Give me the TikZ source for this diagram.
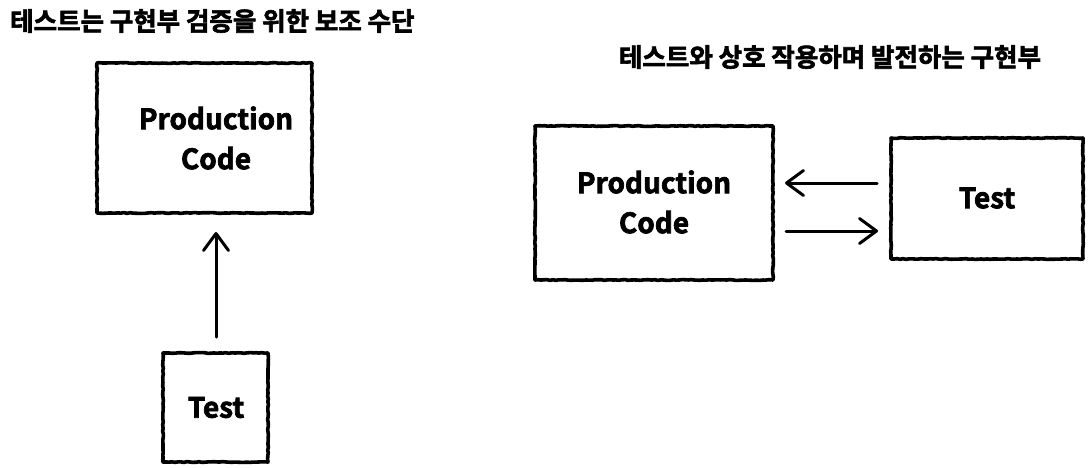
\documentclass[tikz,border=0pt]{standalone}
\usepackage{fontspec}
\setmainfont{Noto Sans CJK KR Bold}[FakeBold=2.5]
\usetikzlibrary{arrows.meta,decorations.pathmorphing}
\begin{document}
\begin{tikzpicture}[x=1pt,y=-1pt,
  box/.style={draw=black,line width=3.6pt,line join=round,decorate,decoration={random steps,segment length=3pt,amplitude=0.4pt}},
  lbl/.style={font=\fontsize{28}{40}\selectfont,align=center,text=black},
  ttl/.style={font=\fontsize{25.5}{30}\selectfont,text=black},
  conn/.style={line width=3pt,line cap=round,-{Straight Barb[length=17pt,width=25pt,line width=3pt,round]}}]
\useasboundingbox (0,0) rectangle (1089,467);
% left diagram
\node[ttl,anchor=west,inner xsep=0pt] (t1) at (10,21) {테스트는 구현부 검증을 위한 보조 수단};
\draw[box] (97,63) rectangle (312,213);
\node[lbl] (pc1) at (216,138) {Production\\Code};
\draw[box] (163,353) rectangle (268,462);
\node[lbl] (ts1) at (216,407.5) {Test};
\coordinate (a1s) at (216,337);
\coordinate (a1e) at (216,232);
\draw[conn] (a1s) -- (a1e);
% right diagram
\node[ttl] (t2) at (830,57) {테스트와 상호 작용하며 발전하는 구현부};
\draw[box] (535,126) rectangle (773,280);
\node[lbl] (pc2) at (654,202) {Production\\Code};
\draw[box] (891,138) rectangle (1083,259);
\node[lbl] (ts2) at (987,198) {Test};
\coordinate (a2s) at (877,183);
\coordinate (a2e) at (785,183);
\coordinate (a3s) at (786,231);
\coordinate (a3e) at (878,231);
\draw[conn] (a2s) -- (a2e);
\draw[conn] (a3s) -- (a3e);
\end{tikzpicture}
\end{document}
